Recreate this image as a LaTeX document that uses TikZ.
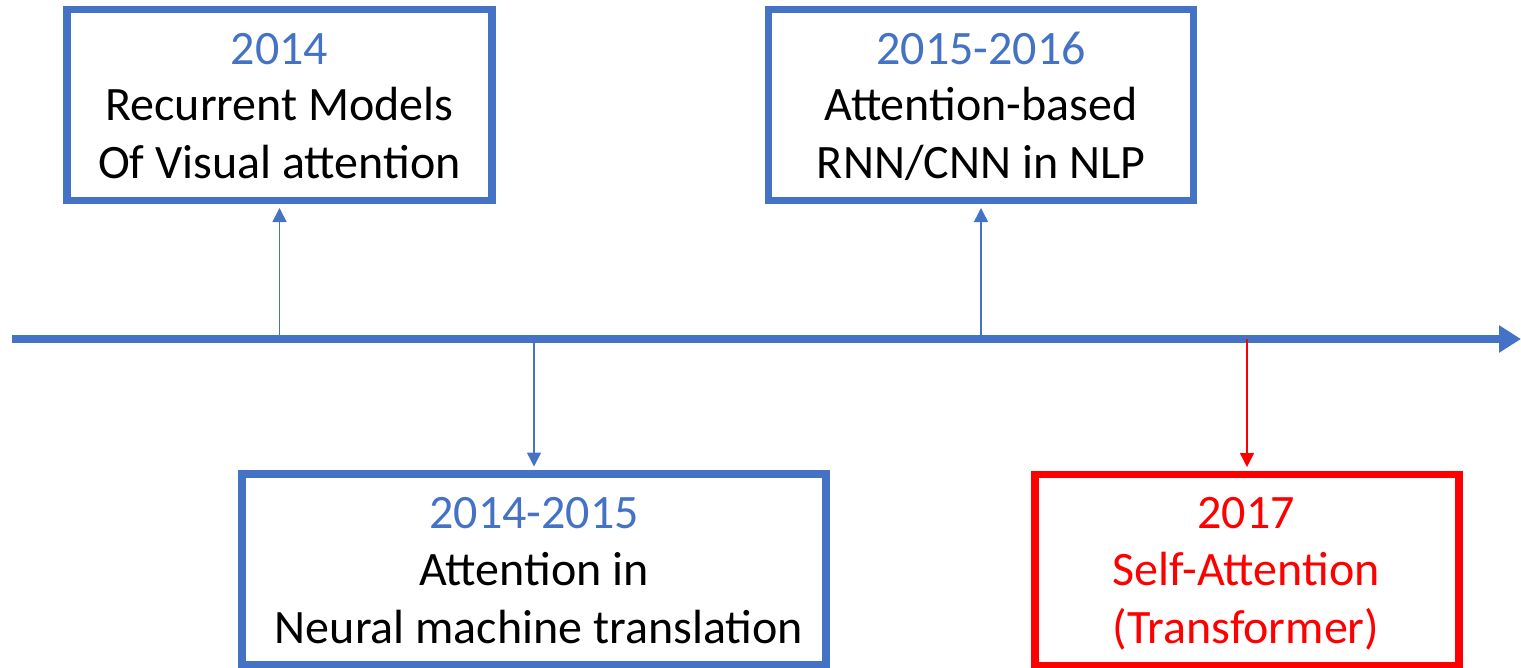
\documentclass[tikz,border=0pt]{standalone}
\usepackage{fontspec}
\setmainfont{Carlito}
\usetikzlibrary{arrows.meta}
\definecolor{tlblue}{HTML}{4472C4}
\definecolor{tlred}{HTML}{FF0000}
\begin{document}
\begin{tikzpicture}[x=1pt,y=-1pt,
  eventbox/.style={draw=#1,line width=7.5pt,rectangle,inner sep=0pt},
  linetext/.style={anchor=base,inner sep=0pt,font=\fontsize{48}{58}\selectfont},
  conn/.style={draw=#1,line width=1.5pt,-{Triangle[width=14pt,length=14pt]},shorten >=3.75pt},
  timeaxis/.style={draw=tlblue,line width=8pt,-{Triangle[width=26pt,length=22pt]}}]
\useasboundingbox (0,0) rectangle (1521,667);

% time axis
\coordinate (axL) at (12,339);
\coordinate (axR) at (1521,339);
\draw[timeaxis] (axL) -- (axR);

% boxes
\node[eventbox=tlblue,minimum width=425pt,minimum height=191pt] (b1) at (279.5,105) {};
\node[eventbox=tlblue,minimum width=425pt,minimum height=191pt] (b2) at (981,105) {};
\node[eventbox=tlblue,minimum width=584pt,minimum height=191pt] (b3) at (534,569.5) {};
\node[eventbox=tlred,minimum width=424pt,minimum height=191pt] (b4) at (1247,570) {};

% labels
\node[linetext,text=tlblue] (t1a) at (279.5,64) {2014};
\node[linetext] (t1b) at (279.5,120) {Recurrent Models};
\node[linetext] (t1c) at (279.5,178) {Of Visual attention};

\node[linetext,text=tlblue] (t2a) at (981,64) {2015-2016};
\node[linetext] (t2b) at (981,120) {Attention-based};
\node[linetext] (t2c) at (981,178) {RNN/CNN in NLP};

\node[linetext,text=tlblue] (t3a) at (534,528) {2014-2015};
\node[linetext] (t3b) at (534,585) {Attention in};
\node[linetext] (t3c) at (539,643) {Neural machine translation};

\node[linetext,text=tlred] (t4a) at (1246,528) {2017};
\node[linetext,text=tlred] (t4b) at (1246,585) {Self-Attention};
\node[linetext,text=tlred] (t4c) at (1246,643) {(Transformer)};

% connectors from the axis to the boxes
\draw[conn=tlblue] (b1.south |- axL) -- (b1.south);
\draw[conn=tlblue] (b2.south |- axL) -- (b2.south);
\draw[conn=tlblue] (b3.north |- axL) -- (b3.north);
\draw[conn=tlred] (b4.north |- axL) -- (b4.north);
\end{tikzpicture}
\end{document}
